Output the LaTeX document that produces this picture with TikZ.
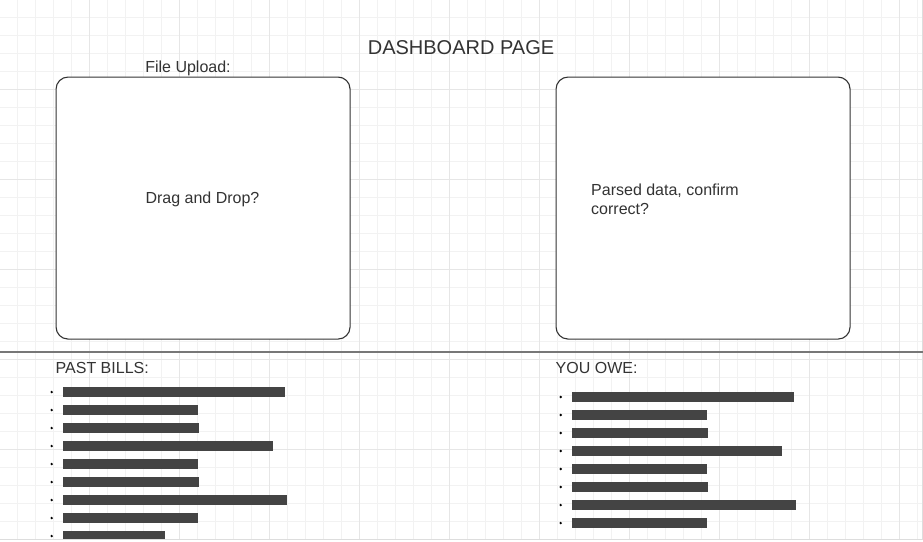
\documentclass[tikz,border=0pt]{standalone}
\usepackage{fontspec}
\setmainfont{Liberation Sans}
\definecolor{gridminor}{HTML}{F2F2F2}
\definecolor{gridmajor}{HTML}{E6E6E6}
\definecolor{edgeline}{HTML}{DDDDDD}
\definecolor{ink}{HTML}{333333}
\definecolor{barfill}{HTML}{444444}
\definecolor{rulegray}{HTML}{777777}

\begin{document}
\begin{tikzpicture}[x=1pt,y=-1pt,
  panel/.style={draw=ink,line width=1.1pt,rounded corners=12pt,fill=white,
    anchor=north west,minimum width=294pt,minimum height=262pt,inner sep=0pt},
  label/.style={text=ink,inner sep=0pt,font=\fontsize{16}{19}\selectfont},
  bar/.style={fill=barfill,draw=none,rectangle,inner sep=0pt,anchor=west,minimum height=10pt},
  dot/.style={circle,fill=black,draw=none,inner sep=0pt,minimum size=2.6pt},
  divider/.style={draw=rulegray,line width=2pt}]

% canvas
\useasboundingbox (0,0) rectangle (923,541);
\fill[white] (0,0) rectangle (923,541);

% background grid: minor lines every 18, major every 90
\foreach \k in {0,...,50}{
  \draw[gridminor,line width=1pt] ({17.3+18*\k},0) -- ({17.3+18*\k},539);
}
\foreach \k in {0,...,29}{
  \draw[gridminor,line width=1pt] (0,{17.3+18*\k}) -- (922,{17.3+18*\k});
}
\foreach \v in {89.3,179.3,...,899.3}{
  \draw[gridmajor,line width=1pt] (\v,0) -- (\v,539);
}
\foreach \v in {89.3,179.3,...,449.3}{
  \draw[gridmajor,line width=1pt] (0,\v) -- (922,\v);
}
\draw[edgeline,line width=1pt] (922,0) -- (922,539.5) -- (0,539.5);

% heading
\node[label,font=\fontsize{20}{23}\selectfont] (title) at (461,47.3) {DASHBOARD PAGE};

% upload panel
\node[label] (uploadlbl) at (188,68.5) {File Upload:};
\node[panel] (upload) at (55.5,76.5) {};
\node[label] (dragtxt) at (202.5,199) {Drag and Drop?};

% parsed-data panel
\node[panel] (parsed) at (555.5,76.5) {};
\node[label,anchor=west,align=left] (parsedtxt) at (591,198.8) {Parsed data, confirm\\correct?};

% section divider
\coordinate (divL) at (0,351.7);
\coordinate (divR) at (923,351.7);
\draw[divider] (divL) -- (divR);

% past bills list
\node[label,anchor=west] (pastlbl) at (55.5,368) {PAST BILLS:};
\begin{scope}
  \clip (0,0) rectangle (923,538.8);
  \foreach \e [count=\i] in {285,198,199,273,198,199,287,198,165}{
    \node[dot] (pdot\i) at (51.7,{392+18*(\i-1)}) {};
    \node[bar,minimum width={(\e-63)*1pt}] (pbar\i) at (63,{392+18*(\i-1)}) {};
  }
\end{scope}

% amounts owed list
\node[label,anchor=west] (owelbl) at (555.5,368) {YOU OWE:};
\foreach \e [count=\i] in {794,707,708,782,707,708,796,707}{
  \node[dot] (odot\i) at (560.7,{397+18*(\i-1)}) {};
  \node[bar,minimum width={(\e-572)*1pt}] (obar\i) at (572,{397+18*(\i-1)}) {};
}
\end{tikzpicture}
\end{document}
